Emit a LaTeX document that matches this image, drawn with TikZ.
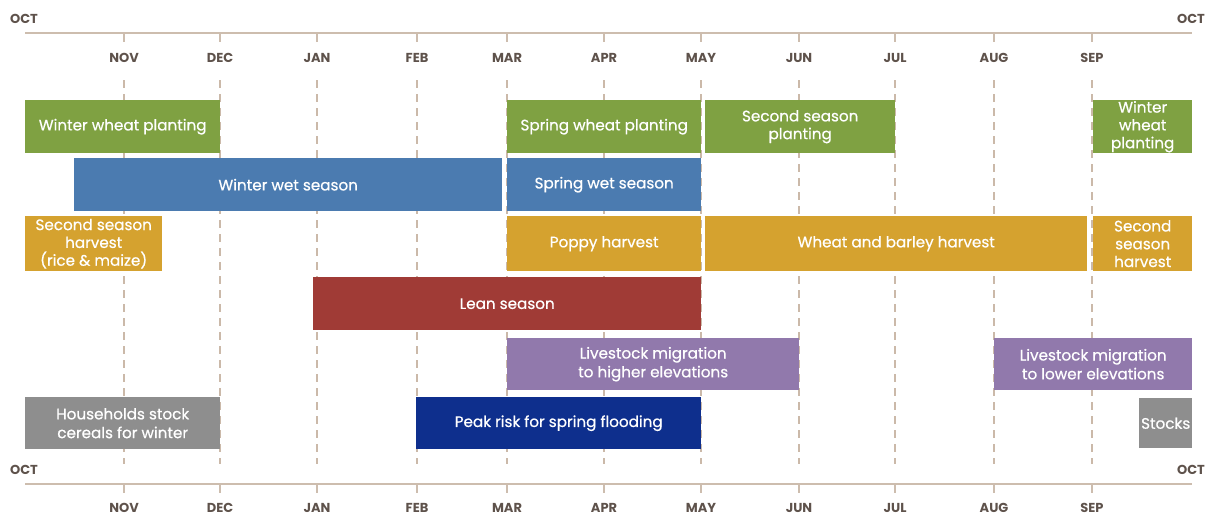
\documentclass[tikz,border=0pt]{standalone}
\usepackage{fontspec}
\setmainfont{Poppins}
\newfontfamily\barfont[FakeBold=0.6]{Poppins}
\definecolor{cgreen}{HTML}{7FA142}
\definecolor{cblue}{HTML}{4B7BB0}
\definecolor{cgold}{HTML}{D5A22F}
\definecolor{cred}{HTML}{A03B36}
\definecolor{cpurple}{HTML}{9179AC}
\definecolor{cnavy}{HTML}{0E2F8D}
\definecolor{cgray}{HTML}{8E8E8E}
\definecolor{caxis}{HTML}{CDBDAE}
\definecolor{cdash}{HTML}{CBB9A9}
\definecolor{clabel}{HTML}{5E524B}
\begin{document}
\begin{tikzpicture}[x=1pt,y=-1pt,
  bar/.style={inner sep=0pt, text=white, align=center,
    font=\barfont\fontsize{15.2}{18.8}\selectfont, anchor=north west},
  month/.style={text=clabel, font=\fontsize{13}{14}\selectfont\bfseries, inner sep=0pt},
  axisline/.style={caxis, line width=2.2pt},
  tick/.style={caxis, line width=1.6pt},
  grid/.style={cdash, line width=1.4pt, dash pattern=on 8pt off 6pt}
]
\useasboundingbox (0,0) rectangle (1207,519);

% month positions
\foreach \m/\x in {nov/124,dec/220,jan/317,feb/417,mar/507,apr/604,may/701,jun/799,jul/895,aug/994,sep/1092}{
  \coordinate (g\m t) at (\x,80);
  \coordinate (g\m b) at (\x,464);
  \draw[grid] (g\m t) -- (g\m b);
}

% axes
\coordinate (topL) at (25,33);
\coordinate (topR) at (1192,33);
\coordinate (botL) at (25,484);
\coordinate (botR) at (1192,484);
\draw[axisline] (topL) -- (topR);
\draw[axisline] (botL) -- (botR);

\foreach \m/\x/\n in {nov/124/NOV,dec/220/DEC,jan/317/JAN,feb/417/FEB,mar/507/MAR,apr/604/APR,may/701/MAY,jun/799/JUN,jul/895/JUL,aug/994/AUG,sep/1092/SEP}{
  \coordinate (tt\m) at (\x,34);
  \coordinate (tb\m) at (\x,42);
  \draw[tick] (tt\m) -- (tb\m);
  \coordinate (bt\m) at (\x,485);
  \coordinate (bb\m) at (\x,493);
  \draw[tick] (bt\m) -- (bb\m);
  \node[month] (lt\m) at (\x,58) {\n};
  \node[month] (lb\m) at (\x,508) {\n};
}
\node[month] (octTL) at (24,19) {OCT};
\node[month] (octTR) at (1191,19) {OCT};
\node[month] (octBL) at (24,470) {OCT};
\node[month] (octBR) at (1191,470) {OCT};

% row 1
\node[bar, fill=cgreen, minimum width=195pt, minimum height=53pt] (wwp1) at (25,100) {Winter wheat planting};
\node[bar, fill=cgreen, minimum width=194pt, minimum height=53pt] (swp) at (507,100) {Spring wheat planting};
\node[bar, fill=cgreen, minimum width=190pt, minimum height=53pt] (ssp) at (705,100) {Second season\\[-1pt]planting};
\node[bar, fill=cgreen, minimum width=99pt, minimum height=53pt] (wwp2) at (1093,100) {Winter\\[-1pt]wheat\\[-1pt]planting};

% row 2
\node[bar, fill=cblue, minimum width=428pt, minimum height=53pt] (wws) at (74,158) {Winter wet season};
\node[bar, fill=cblue, minimum width=194pt, minimum height=53pt] (sws) at (507,158) {Spring wet season};

% row 3
\node[bar, fill=cgold, minimum width=137pt, minimum height=55pt] (ssh1) at (25,216) {Second season\\[-1pt]harvest\\[-1pt](rice \& maize)};
\node[bar, fill=cgold, minimum width=194pt, minimum height=55pt] (ph) at (507,216) {Poppy harvest};
\node[bar, fill=cgold, minimum width=382pt, minimum height=55pt] (wbh) at (705,216) {Wheat and barley harvest};
\node[bar, fill=cgold, minimum width=99pt, minimum height=55pt] (ssh2) at (1093,216) {Second\\[-1pt]season\\[-1pt]harvest};

% row 4
\node[bar, fill=cred, minimum width=388pt, minimum height=53pt] (lean) at (313,277) {Lean season};

% row 5
\node[bar, fill=cpurple, minimum width=292pt, minimum height=52pt] (lmh) at (507,338) {Livestock migration\\to higher elevations};
\node[bar, fill=cpurple, minimum width=198pt, minimum height=52pt] (lml) at (994,338) {Livestock migration\\to lower elevations};

% row 6
\node[bar, fill=cgray, minimum width=195pt, minimum height=52pt] (hsc) at (25,397) {Households stock\\cereals for winter};
\node[bar, fill=cnavy, minimum width=285pt, minimum height=52pt] (prf) at (416,397) {Peak risk for spring flooding};
\node[bar, fill=cgray, minimum width=53pt, minimum height=50pt] (stk) at (1139,398) {Stocks};
\end{tikzpicture}
\end{document}
